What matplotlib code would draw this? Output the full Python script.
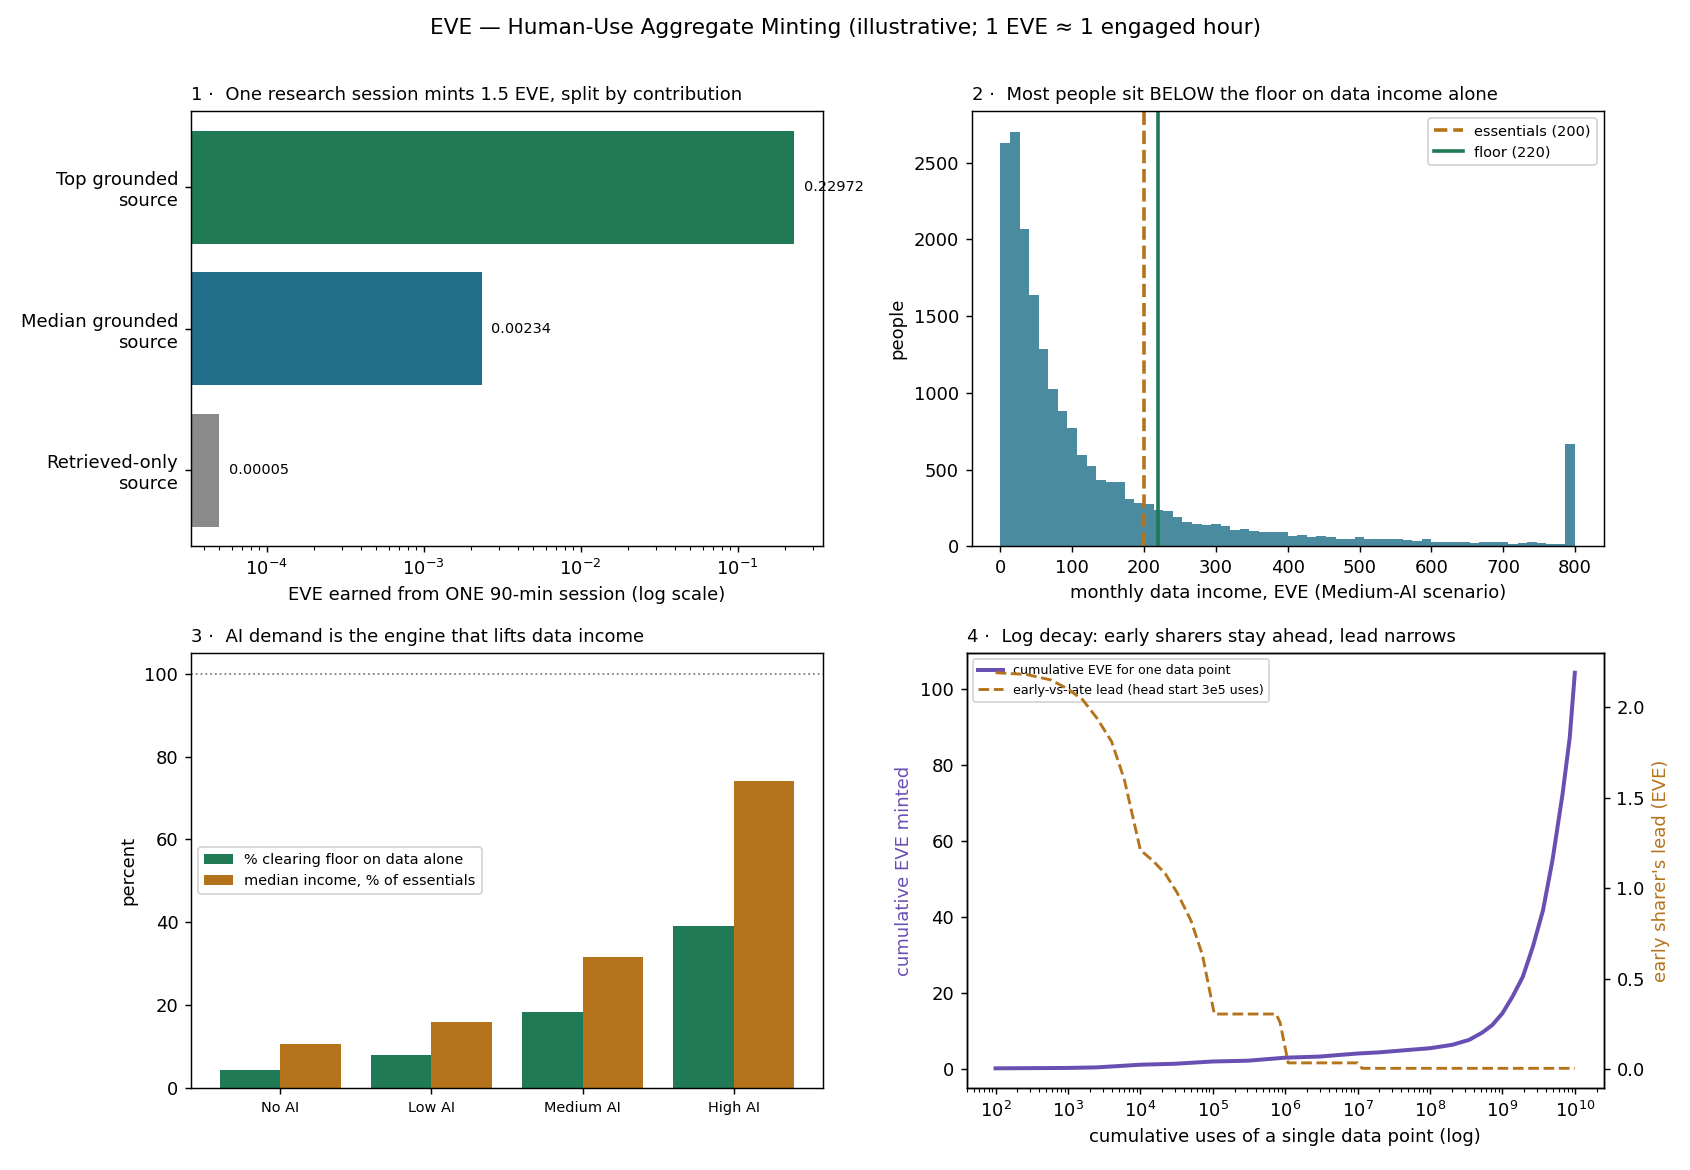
import numpy as np
from matplotlib import pyplot as plt

# panel 1: one session split by contribution
source_labels = ["Top grounded\nsource", "Median grounded\nsource", "Retrieved-only\nsource"]
source_eve = [0.22972, 0.00234, 0.00005]
source_text = ["0.22972", "0.00234", "0.00005"]

# panel 2: monthly data income histogram (60 bins, 0-800), counts per bin
hist_counts = [2628, 2700, 2067, 1637, 1285, 1024, 880, 770, 593, 522,
               430, 417, 417, 307, 285, 274, 235, 228, 189, 157,
               143, 137, 143, 130, 104, 115, 98, 91, 91, 91,
               65, 76, 59, 65, 59, 50, 50, 59, 50, 46,
               46, 50, 39, 33, 46, 26, 26, 26, 26, 20,
               26, 26, 26, 15, 20, 26, 20, 15, 17, 665]
essentials = 200
floor = 220

# panel 3: AI demand scenarios
scenarios = ["No AI", "Low AI", "Medium AI", "High AI"]
pct_clearing = [4.4, 8.0, 18.4, 39.0]
median_pct_essentials = [10.6, 15.9, 31.7, 74.2]

# panel 4: log decay curves
uses = [1e2, 1e3, 2.5e3, 1e4, 3e4, 1e5, 3e5, 1e6, 3e6, 1e7, 1.96e7, 1e8, 2.04e8,
        3.47e8, 5.25e8, 7.24e8, 1e9, 1.38e9, 1.91e9, 2.63e9, 3.63e9, 4.9e9,
        6.76e9, 8.5e9, 1e10]
cum_eve = [0.2, 0.3, 0.45, 1.15, 1.4, 2.0, 2.2, 3.0, 3.3, 4.1, 4.4, 5.5, 6.4,
           7.7, 9.6, 11.6, 14.7, 19.1, 24.3, 32.2, 41.8, 54.9,
           72.4, 87.3, 104.4]
lead_uses = [1e2, 2.7e2, 5.8e2, 1e3, 1.6e3, 2.5e3, 4e3, 6e3, 1e4, 1.5e4, 2.2e4, 3.2e4,
             5e4, 7.2e4, 1.05e5, 7.5e5, 8.5e5, 1.1e6, 1e7, 1.15e7, 1e10]
lead_eve = [2.19, 2.18, 2.15, 2.10, 2.04, 1.94, 1.81, 1.60, 1.21, 1.15, 1.08, 0.976,
            0.82, 0.63, 0.304, 0.304, 0.257, 0.034, 0.034, 0.004, 0.004]

GREEN = "#1f7a55"
TEAL = "#216f8a"
GREY = "#8a8a8a"
HIST = "#4a8ba0"
ORANGE = "#b5731b"
PURPLE = "#6a4fb3"

fig, axes = plt.subplots(2, 2, figsize=(13, 9), dpi=130)
fig.subplots_adjust(left=0.113, right=0.949, top=0.905, bottom=0.070,
                    wspace=0.235, hspace=0.245)
fig.suptitle("EVE \u2014 Human-Use Aggregate Minting (illustrative; 1 EVE \u2248 1 engaged hour)",
             fontsize=12, y=0.985)

# 1
ax = axes[0, 0]
ypos = np.arange(len(source_labels))[::-1]
ax.barh(ypos, source_eve, height=0.8, color=[GREEN, TEAL, GREY])
ax.set_xscale("log")
ax.set_xlim(3.3e-5, 0.35)
ax.set_yticks(ypos)
ax.set_yticklabels(source_labels)
for y, v, t in zip(ypos, source_eve, source_text):
    ax.text(v * 1.15, y, t, va="center", fontsize=8)
ax.set_xlabel("EVE earned from ONE 90-min session (log scale)")
ax.set_title("1 \u00b7  One research session mints 1.5 EVE, split by contribution", loc="left", fontsize=10)

# 2
ax = axes[0, 1]
edges = np.linspace(0, 800, len(hist_counts) + 1)
centers = (edges[:-1] + edges[1:]) / 2
ax.hist(centers, bins=edges, weights=hist_counts, color=HIST)
ax.axvline(essentials, color=ORANGE, ls="--", lw=2, label=f"essentials ({essentials})")
ax.axvline(floor, color=GREEN, lw=2, label=f"floor ({floor})")
ax.legend(loc="upper right", fontsize=8)
ax.set_xlabel("monthly data income, EVE (Medium-AI scenario)")
ax.set_ylabel("people")
ax.set_title("2 \u00b7  Most people sit BELOW the floor on data income alone", loc="left", fontsize=10)

# 3
ax = axes[1, 0]
x = np.arange(len(scenarios))
ax.bar(x - 0.2, pct_clearing, width=0.4, color=GREEN, label="% clearing floor on data alone")
ax.bar(x + 0.2, median_pct_essentials, width=0.4, color=ORANGE, label="median income, % of essentials")
ax.axhline(100, color="grey", ls=":", lw=1)
ax.set_ylim(0, 105)
ax.set_xticks(x)
ax.set_xticklabels(scenarios, fontsize=8)
ax.set_ylabel("percent")
ax.legend(loc="center left", fontsize=8)
ax.set_title("3 \u00b7  AI demand is the engine that lifts data income", loc="left", fontsize=10)

# 4
ax = axes[1, 1]
pos = ax.get_position()
ax.set_position([pos.x0 - 0.003, pos.y0, pos.width + 0.003, pos.height])
l1, = ax.plot(uses, cum_eve, color=PURPLE, lw=2.2, label="cumulative EVE for one data point")
ax.set_xscale("log")
ax.set_ylabel("cumulative EVE minted", color=PURPLE)
ax.set_xlabel("cumulative uses of a single data point (log)")
ax2 = ax.twinx()
ax2.set_position(ax.get_position())
l2, = ax2.plot(lead_uses, lead_eve, color=ORANGE, ls="--", lw=1.6,
               label="early-vs-late lead (head start 3e5 uses)")
ax2.set_ylabel("early sharer's lead (EVE)", color=ORANGE)
ax.legend([l1, l2], [l1.get_label(), l2.get_label()], loc="upper left", fontsize=7)
ax.set_title("4 \u00b7  Log decay: early sharers stay ahead, lead narrows", loc="left", fontsize=10)

fig.savefig("out.png")
